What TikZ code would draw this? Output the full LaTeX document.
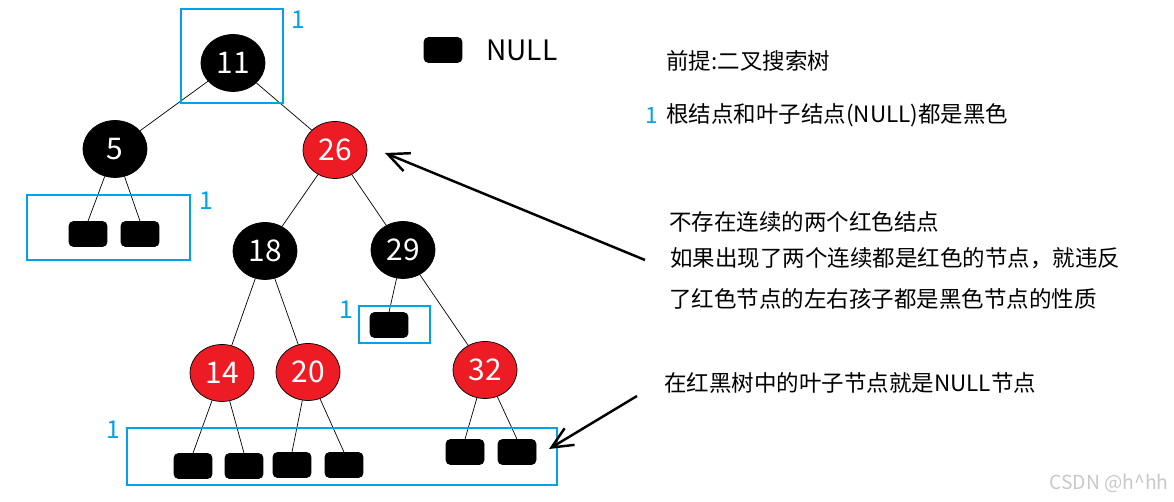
\documentclass[tikz,border=0pt]{standalone}
\usepackage{fontspec}
\setmainfont{Noto Sans CJK SC}
\usepackage{tikz}
\usetikzlibrary{arrows.meta,shapes.geometric}
\definecolor{rbred}{HTML}{ED1C24}
\definecolor{rbblue}{HTML}{00A2E8}
\definecolor{rbgrey}{HTML}{C8C8C8}

\begin{document}
\begin{tikzpicture}[x=0.02cm,y=-0.02cm,
  bnode/.style={ellipse, draw=black, fill=black, text=white, minimum width=1.28cm, minimum height=1.14cm, inner sep=0pt, font=\fontsize{17}{17}\selectfont},
  rnode/.style={bnode, fill=rbred},
  nilleaf/.style={draw=black, fill=black, rounded corners=2.5pt, minimum width=0.76cm, minimum height=0.5cm, inner sep=0pt},
  treeline/.style={black, line width=0.4pt},
  nilframe/.style={draw=rbblue, line width=0.6pt},
  onelabel/.style={text=rbblue, inner sep=0pt, font=\fontsize{14}{14}\selectfont},
  note/.style={anchor=west, inner sep=0pt, font=\fontsize{12.8}{14}\selectfont},
  bigarrow/.style={line width=1.4pt, -{Straight Barb[length=12pt,width=11pt,line width=1.4pt]}}]
\useasboundingbox (0,0) rectangle (1174,502);

% tree
\node[bnode] (n11) at (233,63) {11};
\node[bnode] (n5) at (115,149) {5};
\node[rnode] (n26) at (335,150) {26};
\node[bnode] (n18) at (265,251) {18};
\node[bnode] (n29) at (403,250) {29};
\node[rnode] (n14) at (222,373) {14};
\node[rnode] (n20) at (308,372) {20};
\node[rnode] (n32) at (485,370) {32};

\node[nilleaf] (l5a) at (88,234) {};
\node[nilleaf] (l5b) at (140,234) {};
\node[nilleaf] (l29) at (389,325) {};
\node[nilleaf] (l14a) at (193,466) {};
\node[nilleaf] (l14b) at (244,466) {};
\node[nilleaf] (l20a) at (292,465) {};
\node[nilleaf] (l20b) at (344,465) {};
\node[nilleaf] (l32a) at (465,452) {};
\node[nilleaf] (l32b) at (517,452) {};

\draw[treeline] (n11) -- (n5);
\draw[treeline] (n11) -- (n26);
\draw[treeline] (n26) -- (n18);
\draw[treeline] (n26) -- (n29);
\draw[treeline] (n18) -- (n14);
\draw[treeline] (n18) -- (n20);
\draw[treeline] (n29) -- (n32);
\draw[treeline] (n5) -- (l5a.north);
\draw[treeline] (n5) -- (l5b.north);
\draw[treeline] (n29) -- (l29.north);
\draw[treeline] (n14) -- (l14a.north);
\draw[treeline] (n14) -- (l14b.north);
\draw[treeline] (n20) -- (l20a.north);
\draw[treeline] (n20) -- (l20b.north);
\draw[treeline] (n32) -- (l32a.north);
\draw[treeline] (n32) -- (l32b.north);

% black frames
\draw[nilframe] (181,9) rectangle (283,103);
\draw[nilframe] (27,195) rectangle (190,260);
\draw[nilframe] (359,306) rectangle (430,343);
\draw[nilframe] (127,428) rectangle (557,485);
\node[onelabel] (o1) at (298,20) {1};
\node[onelabel] (o2) at (206,201) {1};
\node[onelabel] (o3) at (346,310) {1};
\node[onelabel] (o4) at (113,430) {1};

% legend
\node[nilleaf] (lnull) at (443,50) {};
\node[anchor=west, inner sep=0pt, font=\fontsize{16}{16}\selectfont] (tnull) at (486,50) {NULL};

% notes
\node[note] (t1) at (666,61) {前提:二叉搜索树};
\node[onelabel, font=\fontsize{12.8}{14}\selectfont] (o5) at (652,115) {1};
\node[note] (t2) at (666,115) {根结点和叶子结点(NULL)都是黑色};
\node[note] (t3) at (669,222) {不存在连续的两个红色结点};
\node[note] (t4) at (670,258) {如果出现了两个连续都是红色的节点，就违反};
\node[note] (t5) at (669,299) {了红色节点的左右孩子都是黑色节点的性质};
\node[note] (t6) at (664,383) {在红黑树中的叶子节点就是NULL节点};

\coordinate (a1s) at (645,260);
\coordinate (a1e) at (385,153);
\coordinate (a2s) at (637,396);
\coordinate (a2e) at (549,449);
\draw[bigarrow] (a1s) -- (a1e);
\draw[bigarrow] (a2s) -- (a2e);

\node[anchor=east, inner sep=0pt, text=rbgrey, font=\fontsize{11}{11}\selectfont] (mark) at (1169,483) {CSDN @h\^{}hh};
\end{tikzpicture}
\end{document}
